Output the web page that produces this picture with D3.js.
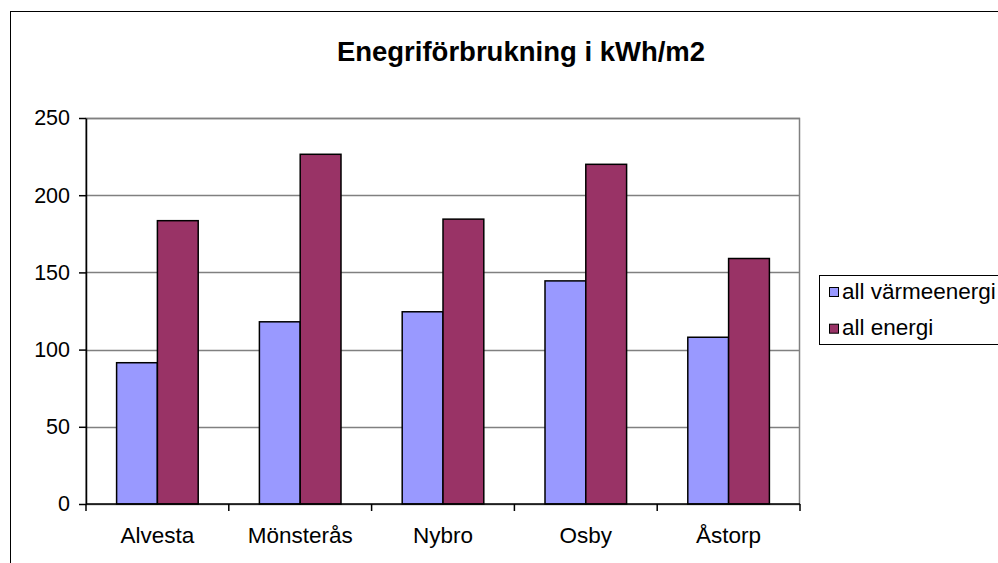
<!DOCTYPE html>
<html>
<head>
<meta charset="utf-8">
<script src="https://cdn.jsdelivr.net/npm/d3@7"></script>
<style>
  html, body { margin: 0; padding: 0; background: #fff; }
  svg { display: block; font-family: "Liberation Sans", Arial, sans-serif; }
</style>
</head>
<body>
<svg id="chart" width="998" height="563"></svg>
<script>
// Energy use per municipality, kWh per square metre
const categories = ["Alvesta", "Mönsterås", "Nybro", "Osby", "Åstorp"];
const seriesNames = ["all värmeenergi", "all energi"];
const heatValues = [91.5, 118, 124.5, 144.5, 108];
const totalValues = [183.5, 226.5, 184.5, 220, 159];
const yTicks = [0, 50, 100, 150, 200, 250];
const colors = ["#9999FF", "#993366"];

const series = [heatValues, totalValues];

const svg = d3.select("#chart");

// outer chart frame (extends past the visible window on the right and bottom)
svg.append("rect")
  .attr("x", 10.5).attr("y", 11.5)
  .attr("width", 1100).attr("height", 700)
  .attr("fill", "#fff").attr("stroke", "#000").attr("stroke-width", 1);

const plot = { left: 86, right: 800, top: 118, bottom: 504 };

const x0 = d3.scaleBand().domain(categories).range([plot.left, plot.right]).padding(0);
const x1 = d3.scaleBand().domain(seriesNames).range([0, x0.bandwidth()])
  .paddingInner(0).paddingOuter(0.75);
const y = d3.scaleLinear().domain([0, 250]).range([plot.bottom, plot.top]);

// title
svg.append("text")
  .attr("x", 521).attr("y", 61)
  .attr("text-anchor", "middle")
  .attr("font-weight", "bold")
  .attr("font-size", 27.5)
  .attr("fill", "#000")
  .text("Enegriförbrukning i kWh/m2");

// plot area border
svg.append("rect")
  .attr("x", plot.left).attr("y", plot.top + 0.5)
  .attr("width", plot.right - plot.left - 0.5).attr("height", plot.bottom - plot.top)
  .attr("fill", "#fff").attr("stroke", "#808080").attr("stroke-width", 1.5);

// horizontal gridlines
svg.append("g")
  .selectAll("line")
  .data(yTicks.filter(d => d > 0))
  .join("line")
  .attr("x1", plot.left).attr("x2", plot.right)
  .attr("y1", d => Math.round(y(d)) + 0.5).attr("y2", d => Math.round(y(d)) + 0.5)
  .attr("stroke", "#808080").attr("stroke-width", 1.5);

// bars
const groups = svg.append("g")
  .selectAll("g")
  .data(categories)
  .join("g")
  .attr("transform", d => `translate(${x0(d)},0)`);

groups.selectAll("rect")
  .data((c, i) => seriesNames.map((s, k) => ({ s, v: series[k][i], k })))
  .join("rect")
  .attr("x", d => x1(d.s))
  .attr("y", d => y(d.v))
  .attr("width", x1.bandwidth())
  .attr("height", d => y(0) - y(d.v))
  .attr("fill", d => colors[d.k])
  .attr("stroke", "#000")
  .attr("stroke-width", 1.5);

// y axis
const yAxis = d3.axisLeft(y).tickValues(yTicks).tickSize(7).tickPadding(9).tickSizeOuter(0);
const gy = svg.append("g").attr("transform", `translate(${plot.left},0)`).call(yAxis);
gy.select(".domain").attr("stroke", "#000").attr("stroke-width", 1.5);
gy.selectAll(".tick line").attr("stroke", "#000").attr("stroke-width", 1.5);
gy.selectAll(".tick text")
  .attr("font-size", 21.5).attr("fill", "#000")
  .attr("font-family", "Liberation Sans, Arial, sans-serif");

// x axis: tick marks between categories
const gx = svg.append("g").attr("transform", `translate(0,${plot.bottom})`);
gx.append("line")
  .attr("x1", plot.left).attr("x2", plot.right)
  .attr("y1", 0).attr("y2", 0)
  .attr("stroke", "#000").attr("stroke-width", 1.5);
const boundaries = categories.map(c => x0(c)).concat([plot.right]);
gx.selectAll("line.sep")
  .data(boundaries)
  .join("line")
  .attr("class", "sep")
  .attr("x1", d => d).attr("x2", d => d)
  .attr("y1", 0).attr("y2", 7)
  .attr("stroke", "#000").attr("stroke-width", 1.5);
gx.selectAll("text")
  .data(categories)
  .join("text")
  .attr("x", d => x0(d) + x0.bandwidth() / 2)
  .attr("y", 38.5)
  .attr("text-anchor", "middle")
  .attr("font-size", 22.5)
  .attr("fill", "#000")
  .text(d => d);

// legend
const legend = svg.append("g");
legend.append("rect")
  .attr("x", 819.5).attr("y", 275.5)
  .attr("width", 300).attr("height", 69)
  .attr("fill", "#fff").attr("stroke", "#000").attr("stroke-width", 1);
const items = legend.selectAll("g.item")
  .data(seriesNames)
  .join("g")
  .attr("class", "item")
  .attr("transform", (d, i) => `translate(0,${i * 36.7})`);
items.append("rect")
  .attr("x", 829.5).attr("y", 287.5)
  .attr("width", 9).attr("height", 9)
  .attr("fill", (d, i) => colors[i])
  .attr("stroke", "#000").attr("stroke-width", 1);
items.append("text")
  .attr("x", 842).attr("y", 298.5)
  .attr("font-size", 22.5)
  .attr("fill", "#000")
  .text(d => d);
</script>
</body>
</html>
